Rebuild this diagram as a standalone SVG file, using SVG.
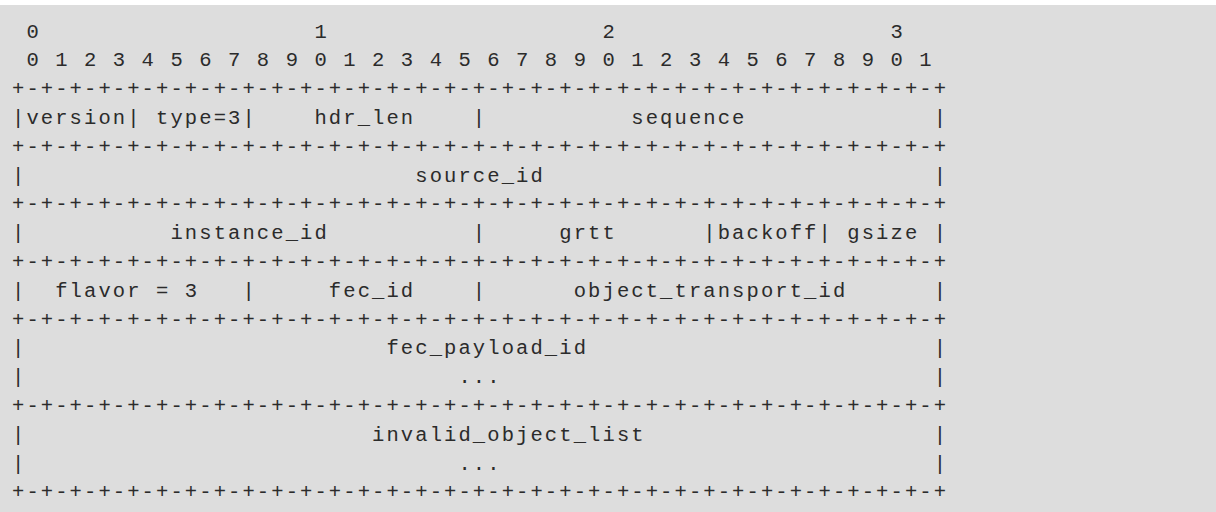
<svg xmlns="http://www.w3.org/2000/svg" width="1216" height="512" viewBox="0 0 1216 512">
<style>
.bg{fill:#dddddd}
.t{font-family:"Liberation Mono","Courier New",monospace;font-size:20.5px;letter-spacing:2.1px;fill:#2b2b2b;white-space:pre}
</style>
<rect width="1216" height="512" fill="#ffffff"/>
<rect class="bg" x="0" y="5" width="1216" height="507"/>
<g id="bit-ruler">
<text class="t" x="12" y="37.5" xml:space="preserve"> 0                   1                   2                   3</text>
<text class="t" x="12" y="66.3" xml:space="preserve"> 0 1 2 3 4 5 6 7 8 9 0 1 2 3 4 5 6 7 8 9 0 1 2 3 4 5 6 7 8 9 0 1</text>
</g>
<g id="header-word-1">
<text class="t" x="12" y="95.1" xml:space="preserve">+-+-+-+-+-+-+-+-+-+-+-+-+-+-+-+-+-+-+-+-+-+-+-+-+-+-+-+-+-+-+-+-+</text>
<text class="t" x="12" y="123.9" xml:space="preserve">|version| type=3|    hdr_len    |          sequence             |</text>
<text class="t" x="12" y="152.7" xml:space="preserve">+-+-+-+-+-+-+-+-+-+-+-+-+-+-+-+-+-+-+-+-+-+-+-+-+-+-+-+-+-+-+-+-+</text>
</g>
<g id="header-word-2">
<text class="t" x="12" y="181.5" xml:space="preserve">|                           source_id                           |</text>
<text class="t" x="12" y="210.3" xml:space="preserve">+-+-+-+-+-+-+-+-+-+-+-+-+-+-+-+-+-+-+-+-+-+-+-+-+-+-+-+-+-+-+-+-+</text>
</g>
<g id="header-word-3">
<text class="t" x="12" y="239.1" xml:space="preserve">|          instance_id          |     grtt      |backoff| gsize |</text>
<text class="t" x="12" y="267.9" xml:space="preserve">+-+-+-+-+-+-+-+-+-+-+-+-+-+-+-+-+-+-+-+-+-+-+-+-+-+-+-+-+-+-+-+-+</text>
</g>
<g id="header-word-4">
<text class="t" x="12" y="296.7" xml:space="preserve">|  flavor = 3   |     fec_id    |      object_transport_id      |</text>
<text class="t" x="12" y="325.5" xml:space="preserve">+-+-+-+-+-+-+-+-+-+-+-+-+-+-+-+-+-+-+-+-+-+-+-+-+-+-+-+-+-+-+-+-+</text>
</g>
<g id="fec-payload-id">
<text class="t" x="12" y="354.3" xml:space="preserve">|                         fec_payload_id                        |</text>
<text class="t" x="12" y="383.1" xml:space="preserve">|                              ...                              |</text>
<text class="t" x="12" y="411.9" xml:space="preserve">+-+-+-+-+-+-+-+-+-+-+-+-+-+-+-+-+-+-+-+-+-+-+-+-+-+-+-+-+-+-+-+-+</text>
</g>
<g id="invalid-object-list">
<text class="t" x="12" y="440.7" xml:space="preserve">|                        invalid_object_list                    |</text>
<text class="t" x="12" y="469.5" xml:space="preserve">|                              ...                              |</text>
<text class="t" x="12" y="498.3" xml:space="preserve">+-+-+-+-+-+-+-+-+-+-+-+-+-+-+-+-+-+-+-+-+-+-+-+-+-+-+-+-+-+-+-+-+</text>
</g>
</svg>
